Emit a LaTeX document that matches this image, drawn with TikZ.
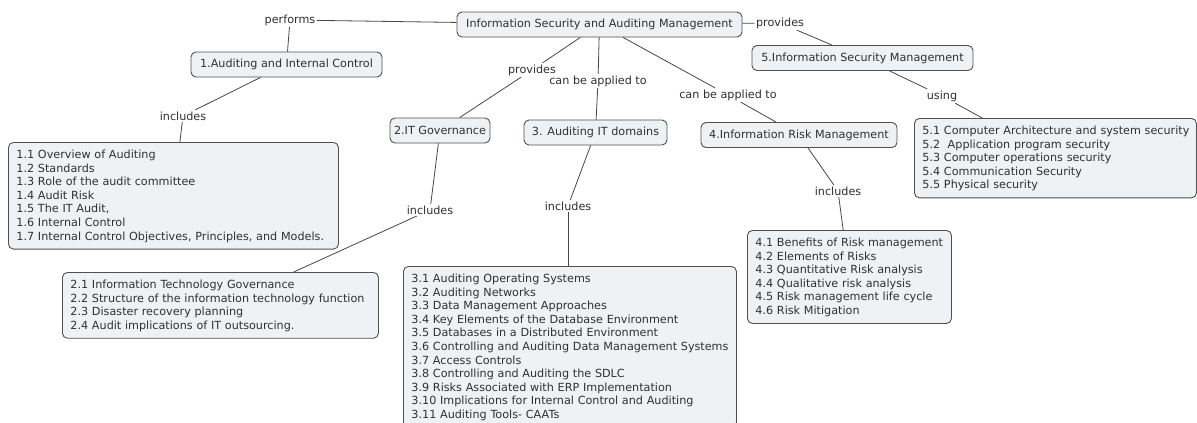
\documentclass[tikz,border=0pt]{standalone}
\usepackage{fontspec}
\setmainfont{DejaVu Sans}
\definecolor{boxfill}{HTML}{EEF2F4}
\definecolor{boxdraw}{HTML}{505050}
\definecolor{txt}{HTML}{303030}
\definecolor{linec}{HTML}{474747}
\newcommand{\FirstStrut}{\rule{0pt}{10.5pt}}
\newcommand{\LastStrut}{\rule[-3.5pt]{0pt}{3.5pt}}
\begin{document}
\begin{tikzpicture}[x=1pt,y=-1pt,
  concept/.style={draw=boxdraw,fill=boxfill,rounded corners=5pt,line width=0.9pt,
    text=txt,font=\fontsize{11.2}{13.6}\selectfont,inner sep=0pt,minimum height=25pt,align=center},
  listbox/.style={draw=boxdraw,fill=boxfill,rounded corners=5pt,line width=0.9pt,
    text=txt,font=\fontsize{11.2}{13.6}\selectfont,inner xsep=8pt,inner ysep=5.5pt,align=left,anchor=north west},
  lbl/.style={text=txt,font=\fontsize{11.2}{12}\selectfont,inner sep=1.5pt,fill=white},
  conn/.style={draw=linec,line width=0.8pt}]
\useasboundingbox (0,0) rectangle (1197,423);
\fill[white] (0,0) rectangle (1197,423);

% concept boxes
\node[concept,minimum width=285pt] (root) at (599.5,24.5) {Information Security and Auditing Management};
\node[concept,minimum width=191pt] (b1) at (286.5,64.5) {1.Auditing and Internal Control};
\node[concept,minimum width=100pt] (b2) at (440,130.5) {2.IT Governance};
\node[concept,minimum width=143pt] (b3) at (595.5,132.5) {3. Auditing IT domains};
\node[concept,minimum width=196pt] (b4) at (799,135) {4.Information Risk Management};
\node[concept,minimum width=221pt] (b5) at (862.5,58) {5.Information Security Management};

% list boxes
\node[listbox,text width=314pt] (b11) at (8,142) {\mbox{\FirstStrut 1.1 Overview of Auditing}\\
\mbox{1.2 Standards}\\
\mbox{1.3 Role of the audit committee}\\
\mbox{1.4 Audit Risk}\\
\mbox{1.5 The IT Audit,}\\
\mbox{1.6 Internal Control}\\
\mbox{1.7 Internal Control Objectives, Principles, and Models.\LastStrut}};
\node[listbox,text width=300pt] (b21) at (62,272) {\mbox{\FirstStrut 2.1 Information Technology Governance}\\
\mbox{2.2 Structure of the information technology function}\\
\mbox{2.3 Disaster recovery planning}\\
\mbox{2.4 Audit implications of IT outsourcing.\LastStrut}};
\node[listbox,text width=317pt] (b31) at (403,266) {\mbox{\FirstStrut 3.1 Auditing Operating Systems}\\
\mbox{3.2 Auditing Networks}\\
\mbox{3.3 Data Management Approaches}\\
\mbox{3.4 Key Elements of the Database Environment}\\
\mbox{3.5 Databases in a Distributed Environment}\\
\mbox{3.6 Controlling and Auditing Data Management Systems}\\
\mbox{3.7 Access Controls}\\
\mbox{3.8 Controlling and Auditing the SDLC}\\
\mbox{3.9 Risks Associated with ERP Implementation}\\
\mbox{3.10 Implications for Internal Control and Auditing}\\
\mbox{3.11 Auditing Tools- CAATs\LastStrut}};
\node[listbox,text width=188pt] (b41) at (747,230) {\mbox{\FirstStrut 4.1 Benefits of Risk management}\\
\mbox{4.2 Elements of Risks}\\
\mbox{4.3 Quantitative Risk analysis}\\
\mbox{4.4 Qualitative risk analysis}\\
\mbox{4.5 Risk management life cycle}\\
\mbox{4.6 Risk Mitigation\LastStrut}};
\node[listbox,text width=266pt] (b51) at (914,118) {\mbox{\FirstStrut 5.1 Computer Architecture and system security}\\
\mbox{5.2 \ Application program security}\\
\mbox{5.3 Computer operations security}\\
\mbox{5.4 Communication Security}\\
\mbox{5.5 Physical security\LastStrut}};

% linking labels
\node[lbl] (performs) at (290,20) {performs};
\node[lbl] (inc1) at (183,116) {includes};
\node[lbl] (prov2) at (532,70) {provides};
\node[lbl] (app3) at (598,81) {can be applied to};
\node[lbl] (inc2) at (430,210) {includes};
\node[lbl] (inc3) at (568,206) {includes};
\node[lbl] (app4) at (728,95) {can be applied to};
\node[lbl] (inc4) at (838,191) {includes};
\node[lbl] (prov5) at (780,23) {provides};
\node[lbl] (using) at (942,96) {using};

% connectors
\draw[conn] (root) -- (performs);
\draw[conn] (performs) -- (b1);
\draw[conn] (b1) -- (inc1);
\draw[conn] (inc1) -- (b11);
\draw[conn] (root) -- (prov2);
\draw[conn] (prov2) -- (b2);
\draw[conn] (b2) -- (inc2);
\draw[conn] (inc2) -- (b21);
\draw[conn] (root) -- (app3);
\draw[conn] (app3) -- (b3);
\draw[conn] (b3) -- (inc3);
\draw[conn] (inc3) -- (inc3 |- b31.north);
\draw[conn] (root) -- (app4);
\draw[conn] (app4) -- (b4);
\draw[conn] (b4) -- (inc4);
\draw[conn] (inc4) -- (b41);
\draw[conn] (root) -- (prov5);
\draw[conn] (prov5) -- (b5);
\draw[conn] (b5) -- (using);
\draw[conn] (using) -- (b51);
\end{tikzpicture}
\end{document}
